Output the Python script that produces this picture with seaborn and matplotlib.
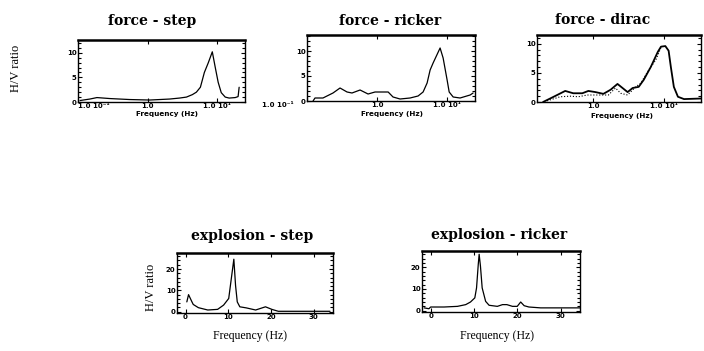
import numpy as np
import pandas as pd
import matplotlib
matplotlib.use("Agg")
import matplotlib.pyplot as plt
import matplotlib.transforms as mtransforms
import seaborn as sns
from matplotlib.ticker import FixedLocator, MultipleLocator, NullLocator

sns.set_style("ticks")
plt.rcParams['font.family'] = ['DejaVu Sans']

# ---------------- data ----------------
titles = ["force - step", "force - ricker", "force - dirac",
          "explosion - step", "explosion - ricker"]

fstep_f = [0.107, 0.148, 0.187, 0.287, 0.553, 1.07, 2.06, 2.87, 3.61, 4.39,
           5.01, 5.72, 6.11, 6.52, 7.44, 8.48, 9.36, 10.3, 11.4, 13.0, 14.8,
           18.1, 19.9, 20.6]
fstep_r = [0.3, 0.6, 0.9, 0.7, 0.5, 0.4, 0.6, 0.8, 1.0, 1.5,
           2.0, 3.0, 4.5, 6.0, 8.0, 10.2, 7.0, 4.0, 1.9, 1.0, 0.8,
           0.9, 1.1, 3.0]

fricker_f = [0.122, 0.130, 0.169, 0.235, 0.296, 0.373, 0.439, 0.572, 0.744,
             0.936, 1.10, 1.44, 1.69, 2.13, 2.96, 3.85, 4.54, 5.18, 5.72, 6.31,
             7.94, 8.77, 10.0, 10.7, 12.2, 15.3, 21.3, 23.5]
fricker_r = [0.0, 0.6, 0.6, 1.6, 2.6, 1.8, 1.6, 2.2, 1.4,
             1.8, 1.8, 1.8, 0.8, 0.4, 0.6, 1.0, 1.8, 3.6, 6.2, 7.6,
             10.6, 8.6, 4.2, 1.8, 0.8, 0.6, 1.2, 1.6]

fdirac_f = [0.195, 0.246, 0.309, 0.402, 0.523, 0.703, 0.857, 1.08, 1.40, 1.77,
            2.22, 2.62, 3.09, 3.64, 4.44, 5.23, 6.58, 8.29, 9.2, 10.6, 11.8,
            12.7, 14.0, 16.0, 19.5, 34.1]
fdirac_r = [0.0, 0.6, 1.2, 1.9, 1.5, 1.5, 1.9, 1.7, 1.4, 2.1,
            3.1, 2.4, 1.7, 2.4, 2.6, 3.8, 6.0, 8.6, 9.5, 9.6, 8.8,
            6.0, 2.6, 0.9, 0.5, 0.6]
fdirac2_f = [0.222, 0.341, 0.473, 0.617, 0.829, 1.27, 1.65, 2.08, 2.46, 3.09,
             4.02, 4.73, 6.16, 7.76, 9.15]
fdirac2_r = [0.2, 0.9, 1.0, 0.9, 1.2, 1.2, 1.2, 2.4, 1.5, 1.2,
             2.6, 3.2, 5.5, 7.2, 9.3]

estep_f = [0.3, 0.7, 1.5, 1.8, 3.0, 5.2, 7.5, 8.9, 10.1, 11.3, 11.7, 12.1,
           12.7, 14.2, 16.4, 18.7, 20.2, 21.7, 24.7, 33.8]
estep_r = [4.6, 8.0, 4.6, 3.4, 1.9, 0.8, 1.1, 3.1, 6.2, 24.6, 12.3, 4.6,
           2.3, 1.8, 0.8, 2.3, 1.1, 0.2, 0.2, 0.2]

ericker_f = [-1.5, -0.4, 0.0, 3.1, 6.2, 8.1, 9.2, 10.2, 10.6, 11.0, 11.2,
             11.5, 11.9, 12.7, 13.5, 15.4, 16.6, 17.6, 18.9, 20.0, 20.8,
             21.6, 22.7, 25.4, 34.6]
ericker_r = [1.3, 0.9, 1.7, 1.7, 2.0, 2.8, 4.0, 5.9, 10.5, 21.4, 26.0,
             20.6, 10.5, 4.3, 2.5, 2.0, 2.8, 2.8, 2.0, 2.0, 4.0,
             2.3, 1.7, 1.3, 1.3]

log_ticks = [0.1, 1.0, 10.0]
log_labels = ["1.0 10⁻¹", "1.0", "1.0 10¹"]
lin_ticks = [0, 10, 20, 30]
lin_labels = ["0", "10", "20", "30"]

# ---------------- figure ----------------
W, H = 704, 351
fig = plt.figure(figsize=(W / 100, H / 100), dpi=100)


def rect(x0, y0, x1, y1):
    return [x0 / W, 1 - y1 / H, (x1 - x0) / W, (y1 - y0) / H]


def ftext(x, y, s, **kw):
    fig.text(x / W, 1 - y / H, s, **kw)


def frame(ax, ymin_loc):
    for side in ['left', 'right', 'bottom']:
        ax.spines[side].set_linewidth(1.0)
        ax.spines[side].set_color('black')
    ax.spines['top'].set_linewidth(1.8)
    ax.spines['top'].set_color('black')
    ax.yaxis.set_minor_locator(MultipleLocator(ymin_loc))
    ax.tick_params(which='both', direction='in', left=True, right=True,
                   top=True, bottom=True, colors='black')
    ax.tick_params(which='major', length=3, width=0.8, pad=1.0)
    ax.tick_params(which='minor', length=2, width=0.8)
    ax.set_xlabel("")
    ax.set_ylabel("")
    for lab in ax.get_xticklabels() + ax.get_yticklabels():
        lab.set_fontsize(5.0)
        lab.set_fontweight('bold')


def top_plot(r, f, v, xlim, ylim, ticks, labels, extra=None):
    ax = fig.add_axes(rect(*r))
    sns.lineplot(x=f, y=v, ax=ax, color='black', lw=0.9, estimator=None,
                 sort=False)
    if extra is not None:
        sns.lineplot(x=extra[0], y=extra[1], ax=ax, color='black', lw=0.8,
                     linestyle=':', estimator=None, sort=False)
    ax.set_xscale('log')
    ax.set_xlim(*xlim)
    ax.set_ylim(*ylim)
    ax.xaxis.set_major_locator(FixedLocator(ticks))
    ax.xaxis.set_minor_locator(NullLocator())
    ax.set_xticklabels(labels)
    ax.set_yticks([0, 5, 10])
    ax.set_yticklabels(["0", "5", "10"])
    frame(ax, 1)
    return ax


def bottom_plot(r, f, v):
    ax = fig.add_axes(rect(*r))
    sns.lineplot(x=f, y=v, ax=ax, color='black', lw=0.9, estimator=None,
                 sort=False)
    ax.set_xlim(-2, 34.5)
    ax.set_ylim(-0.6, 27.5)
    ax.set_xticks(lin_ticks)
    ax.set_xticklabels(lin_labels)
    ax.xaxis.set_minor_locator(NullLocator())
    ax.set_yticks([0, 10, 20])
    ax.set_yticklabels(["0", "10", "20"])
    frame(ax, 2)
    return ax


ax1 = top_plot((78, 40, 245, 102), fstep_f, fstep_r, (0.1, 25), (0, 12.6),
               log_ticks, log_labels)
ax1.get_xticklabels()[0].set_horizontalalignment('left')
ax2 = top_plot((307, 35, 475, 101), fricker_f, fricker_r, (0.1, 25), (0, 13.2),
               log_ticks, log_labels)
lab0 = ax2.get_xticklabels()[0]
lab0.set_horizontalalignment('right')
lab0.set_transform(lab0.get_transform() +
                   mtransforms.ScaledTranslation(-0.13, 0, fig.dpi_scale_trans))
ax3 = top_plot((537, 35, 701, 102), fdirac_f, fdirac_r, (0.16, 34), (0, 11.5),
               log_ticks[1:], log_labels[1:], extra=(fdirac2_f, fdirac2_r))
ax3.get_lines()[0].set_linewidth(1.3)

ax4 = bottom_plot((177, 253, 333, 313), estep_f, estep_r)
ax5 = bottom_plot((422, 251, 580, 312), ericker_f, ericker_r)

# titles
tkw = dict(family='DejaVu Serif', fontweight='bold', fontsize=10,
           ha='center', va='center', color='black')
ftext(152, 21, titles[0], **tkw)
ftext(390, 21, titles[1], **tkw)
ftext(603, 20, titles[2], **tkw)
ftext(252, 236, titles[3], **tkw)
ftext(499, 235, titles[4], **tkw)

# x labels
skw = dict(family='DejaVu Sans', fontweight='bold', fontsize=5.2,
           ha='center', va='center', color='black')
ftext(167, 114, "Frequency (Hz)", **skw)
ftext(392, 114, "Frequency (Hz)", **skw)
ftext(622, 116, "Frequency (Hz)", **skw)
bkw = dict(family='Liberation Serif', fontsize=8.5, ha='center', va='center',
           color='black')
ftext(250, 336, "Frequency (Hz)", **bkw)
ftext(497, 336, "Frequency (Hz)", **bkw)

# y labels
ykw = dict(family='Liberation Serif', fontsize=9, ha='center', va='center',
           rotation=90, color='black')
ftext(16, 68, "H/V ratio", **ykw)
ftext(151, 287, "H/V ratio", **ykw)

fig.savefig("out.png", dpi=100, facecolor='white')
